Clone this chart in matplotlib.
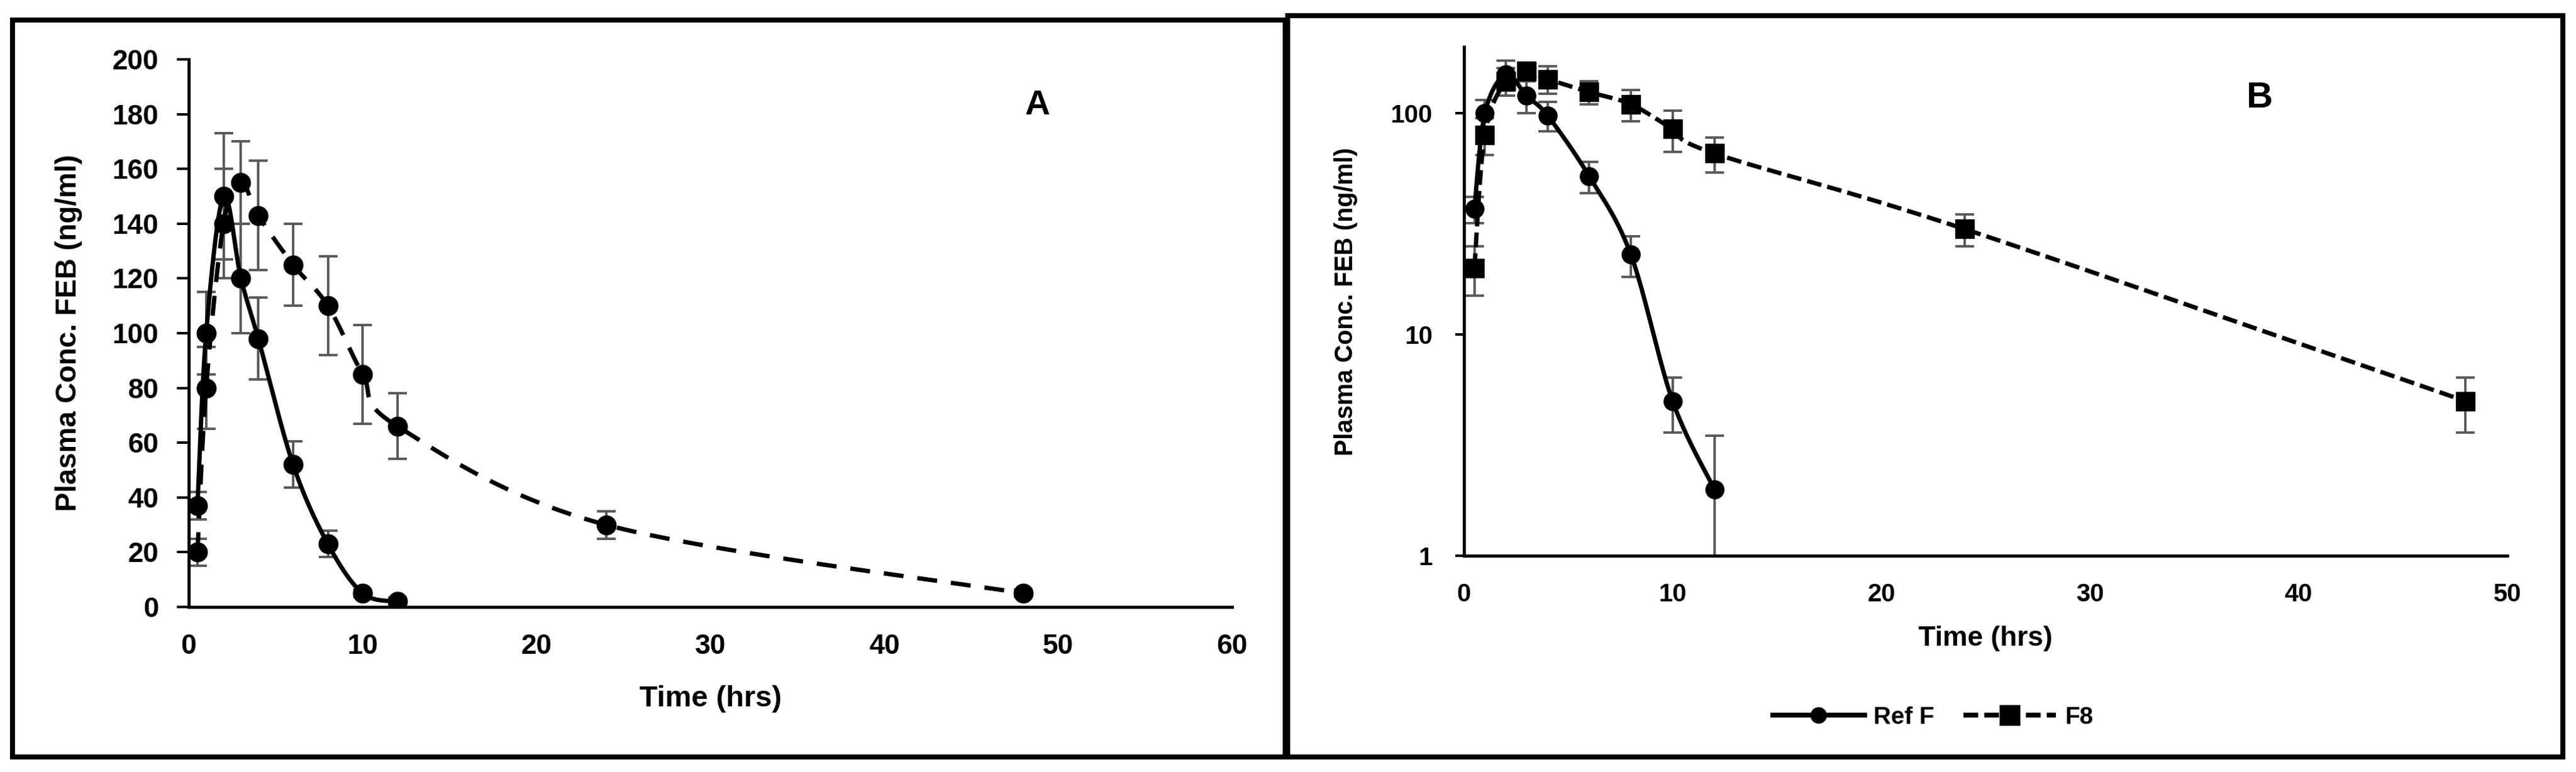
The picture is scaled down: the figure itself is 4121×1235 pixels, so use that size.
import numpy as np
import matplotlib
matplotlib.use("Agg")
import matplotlib.pyplot as plt
from matplotlib.lines import Line2D
from matplotlib.patches import Rectangle

plt.rcParams["font.family"] = ["Liberation Sans", "DejaVu Sans"]
plt.rcParams["font.weight"] = "bold"
plt.rcParams["lines.scale_dashes"] = False

# sampling times (hrs)
t_ref = [0.5, 1, 2, 3, 4, 6, 8, 10, 12]
t_f8 = [0.5, 1, 2, 3, 4, 6, 8, 10, 12, 24, 48]

# plasma conc (ng/ml) and SD
ref_conc = [37, 100, 150, 120, 98, 52, 23, 5, 2]
ref_sd = [5, 15, 23, 20, 15, 8.5, 4.8, 1.4, 1.5]
f8_conc = [20, 80, 140, 155, 143, 125, 110, 85, 66, 30, 5]
f8_sd = [5, 15, 20, 15, 20, 15, 18, 18, 12, 5, 1.4]

lin_yticks = [0, 20, 40, 60, 80, 100, 120, 140, 160, 180, 200]
log_yticks = [1, 10, 100]

ERR = "#595959"
W, H = 4121, 1235


def smooth(x, y, logy=False, n=40):
    # excel-style smoothed line (catmull-rom bezier)
    x = np.asarray(x, float)
    y = np.asarray(y, float)
    if logy:
        y = np.log10(y)
    p = np.column_stack([x, y])
    p = np.vstack([p[0], p, p[-1]])
    t = np.linspace(0, 1, n)[:, None]
    out = []
    for i in range(1, len(p) - 2):
        p0, p1, p2, p3 = p[i - 1], p[i], p[i + 1], p[i + 2]
        c1 = p1 + (p2 - p0) / 6
        c2 = p2 - (p3 - p1) / 6
        seg = ((1 - t) ** 3) * p1 + 3 * ((1 - t) ** 2) * t * c1 + 3 * (1 - t) * t ** 2 * c2 + t ** 3 * p2
        out.append(seg if i == 1 else seg[1:])
    out = np.vstack(out)
    yy = 10 ** out[:, 1] if logy else out[:, 1]
    return out[:, 0], yy


fig = plt.figure(figsize=(W / 100, H / 100), dpi=100)

# panel frames
fig.patches.append(Rectangle((20 / W, 1 - 1211 / H), 2036 / W, 1179 / H, transform=fig.transFigure,
                             fill=False, lw=5.8, ec="black"))
fig.patches.append(Rectangle((2060 / W, 1 - 1211 / H), 2040 / W, 1186.5 / H, transform=fig.transFigure,
                             fill=False, lw=5.8, ec="black"))

axA = fig.add_axes([302 / W, 1 - 971 / H, (1971 - 302) / W, (971 - 95) / H])
axB = fig.add_axes([2342 / W, 1 - 889 / H, (4011 - 2342) / W, (889 - 75) / H])

# ---- panel A (linear)
ebkw = dict(fmt="none", ecolor=ERR, elinewidth=2.8, capsize=11, capthick=2.8, zorder=2)
axA.errorbar(t_ref, ref_conc, yerr=ref_sd, **ebkw)
axA.errorbar(t_f8, f8_conc, yerr=f8_sd, **ebkw)
sx, sy = smooth(t_ref, ref_conc)
axA.plot(sx, sy, color="black", lw=5, zorder=3)
sx, sy = smooth(t_f8, f8_conc)
axA.plot(sx, sy, color="black", lw=5, dashes=(23, 16), zorder=3)
axA.plot(t_ref, ref_conc, "o", color="black", ms=22, zorder=4)
axA.plot(t_f8, f8_conc, "o", color="black", ms=22, zorder=4)

axA.set_xlim(0, 60)
axA.set_ylim(0, 200)
axA.set_xticks(range(0, 61, 10))
axA.set_yticks(lin_yticks)
axA.tick_params(axis="x", length=0, pad=31, labelsize=32)
axA.tick_params(axis="y", direction="out", length=13.7, width=2.9, pad=21, labelsize=32)
axA.set_ylabel("Plasma Conc. FEB (ng/ml)", fontsize=33, fontweight="bold")
axA.yaxis.set_label_coords(-0.102, 0.5)
axA.set_xlabel("Time (hrs)", fontsize=34, fontweight="bold")
axA.xaxis.set_label_coords(0.5, -0.168)
axA.xaxis.label.set_va("center")
axA.text(48.8, 183, "A", fontsize=40, fontweight="bold", ha="center", va="center")

# ---- panel B (log)
axB.errorbar(t_ref, ref_conc, yerr=ref_sd, **ebkw)
axB.errorbar(t_f8, f8_conc, yerr=f8_sd, **ebkw)
sx, sy = smooth(t_ref, ref_conc, logy=True)
axB.plot(sx, sy, color="black", lw=5, zorder=3)
sx, sy = smooth(t_f8, f8_conc, logy=True)
axB.plot(sx, sy, color="black", lw=5, dashes=(17, 7), zorder=3)
axB.plot(t_ref, ref_conc, "o", color="black", ms=21, zorder=4)
axB.plot(t_f8, f8_conc, "s", color="black", ms=21, zorder=4)

axB.set_yscale("log")
axB.set_xlim(0, 50)
axB.set_ylim(1, 200)
axB.set_xticks(range(0, 51, 10))
axB.set_yticks(log_yticks)
axB.set_yticklabels([str(v) for v in log_yticks])
axB.yaxis.set_minor_locator(matplotlib.ticker.NullLocator())
axB.tick_params(axis="x", length=0, pad=31, labelsize=29)
axB.tick_params(axis="y", direction="out", length=10, width=2.9, pad=26, labelsize=29)
axB.set_ylabel("Plasma Conc. FEB (ng/ml)", fontsize=28.5, fontweight="bold")
axB.yaxis.set_label_coords(-0.102, 0.5)
axB.set_xlabel("Time (hrs)", fontsize=32, fontweight="bold")
axB.xaxis.set_label_coords(0.5, -0.163)
axB.xaxis.label.set_va("center")
axB.text(38.1, 117, "B", fontsize=42, fontweight="bold", ha="center", va="center")

for ax in (axA, axB):
    for s in ("top", "right"):
        ax.spines[s].set_visible(False)
    for s in ("left", "bottom"):
        ax.spines[s].set_linewidth(3.6)
    ax.patch.set_alpha(0)

handles = [
    Line2D([], [], color="black", lw=5.5, marker="o", ms=18),
    Line2D([], [], color="black", lw=5.5, dashes=(17, 7), marker="s", ms=23),
]
fig.legend(handles, ["Ref F", "F8"], loc="center", bbox_to_anchor=(0.7503, 0.0704), ncol=2,
           frameon=False, handlelength=3.8, handletextpad=0.36, columnspacing=1.2,
           prop={"weight": "bold", "size": 28})

fig.savefig("out.png", dpi=100)
